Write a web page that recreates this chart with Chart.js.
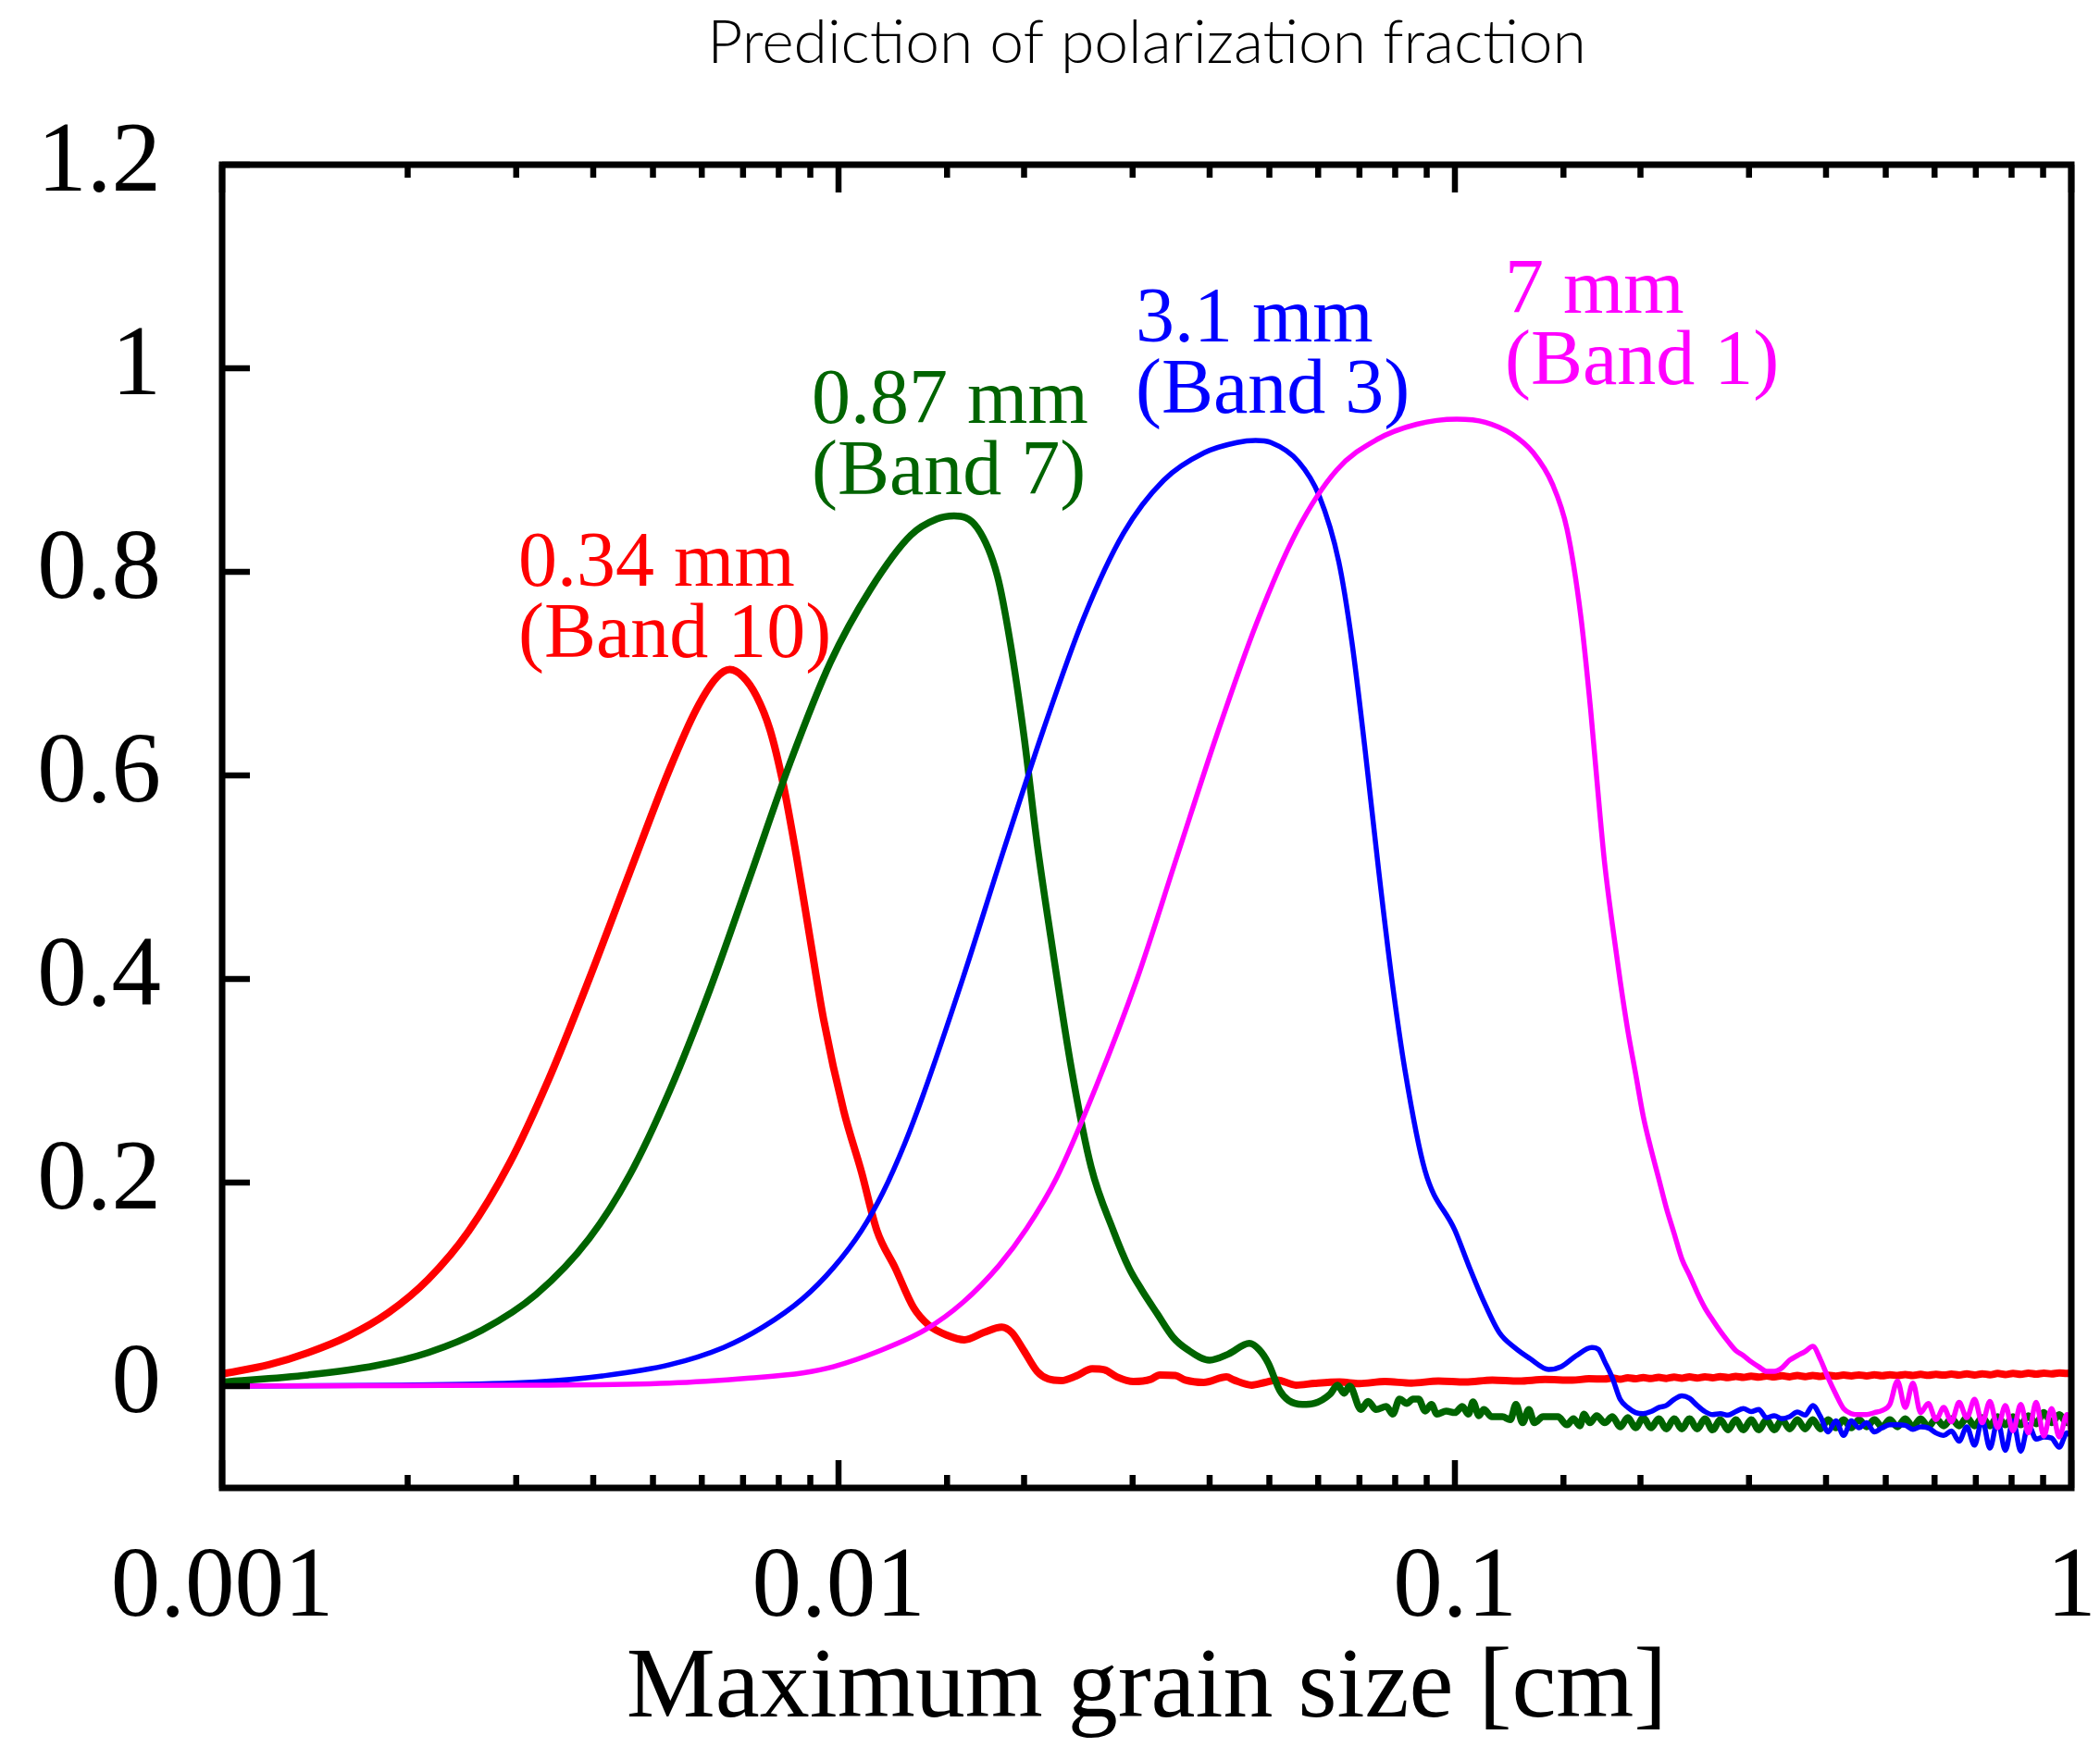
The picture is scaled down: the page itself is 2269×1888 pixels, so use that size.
<!DOCTYPE html>
<html>
<head>
<meta charset="utf-8">
<title>Prediction of polarization fraction</title>
<script src="https://cdn.jsdelivr.net/npm/chart.js@4.4.1/dist/chart.umd.min.js"></script>
<style>
  html, body { margin: 0; padding: 0; background: #ffffff; }
  canvas { display: block; }
</style>
</head>
<body>
<canvas id="polarization" width="2269" height="1888"></canvas>
<script>
// Maximum grain size [cm] and polarization fraction
const sizeRed = [0.001, 0.00119, 0.00138, 0.0016, 0.00186, 0.00216, 0.00251, 0.00292, 0.00339, 0.00394,
  0.00458, 0.00532, 0.00588, 0.00634, 0.00666, 0.0070, 0.00736, 0.00774, 0.00813, 0.00855,
  0.00899, 0.00946, 0.0102, 0.0109, 0.01154, 0.01236, 0.01324, 0.0140, 0.0150, 0.0160,
  0.0172, 0.0184, 0.0191, 0.0200, 0.0210, 0.0219, 0.0230, 0.0243, 0.0258, 0.0270,
  0.0283, 0.0301, 0.0321, 0.0332, 0.0352, 0.0365, 0.0391, 0.0426, 0.0438, 0.0468,
  0.0492, 0.0515, 0.0552, 0.0592, 0.065, 0.070, 0.077, 0.085, 0.094, 0.104,
  0.115, 0.127, 0.140, 0.155, 0.165];
const fracRed = [0.012, 0.021, 0.033, 0.049, 0.072, 0.105, 0.152, 0.218, 0.302, 0.40,
  0.504, 0.606, 0.665, 0.696, 0.704, 0.697, 0.678, 0.645, 0.592, 0.52,
  0.44, 0.36, 0.27, 0.21, 0.153, 0.116, 0.077, 0.060, 0.050, 0.0455,
  0.0527, 0.058, 0.0527, 0.0345, 0.0145, 0.007, 0.0055, 0.010, 0.017, 0.016,
  0.009, 0.0045, 0.0067, 0.011, 0.0105, 0.006, 0.0036, 0.009, 0.006, 0.001,
  0.0036, 0.006, 0.001, 0.0027, 0.004, 0.0025, 0.0045, 0.003, 0.005, 0.004,
  0.006, 0.005, 0.0065, 0.0058, 0.0072];

const sizeGreen = [0.001, 0.00138, 0.00177, 0.00216, 0.00264, 0.00323, 0.00394, 0.00458, 0.00532, 0.00618,
  0.00718, 0.00834, 0.0097, 0.01127, 0.0131, 0.01445, 0.0154, 0.0168, 0.0181, 0.019,
  0.020, 0.021, 0.0221, 0.0239, 0.0257, 0.0279, 0.0296, 0.031, 0.0329, 0.0349,
  0.0368, 0.040, 0.0429, 0.0464, 0.0481, 0.0498, 0.052, 0.0537, 0.0566, 0.0591,
  0.0627, 0.0645, 0.0661, 0.0675, 0.0704, 0.0723, 0.0745, 0.0774, 0.0793, 0.0813,
  0.0836, 0.0855, 0.0873, 0.0895, 0.0916, 0.0935, 0.0968, 0.100, 0.1028, 0.1052,
  0.107, 0.1094, 0.1114, 0.1148, 0.1194, 0.123, 0.1256, 0.1288, 0.1318, 0.1346,
  0.139, 0.1469, 0.152, 0.1557, 0.1595, 0.162, 0.1656, 0.1698];
const fracGreen = [0.004, 0.011, 0.02, 0.033, 0.055, 0.09, 0.145, 0.207, 0.29, 0.389,
  0.50, 0.612, 0.711, 0.783, 0.836, 0.852, 0.855, 0.843, 0.796, 0.73,
  0.638, 0.533, 0.441, 0.31, 0.215, 0.153, 0.116, 0.095, 0.071, 0.048,
  0.036, 0.0255, 0.0315, 0.042, 0.036, 0.0225, -0.0045, -0.014, -0.018, -0.017,
  -0.008, 0.001, -0.007, 0.0, -0.023, -0.015, -0.023, -0.020, -0.0275, -0.0127,
  -0.017, -0.0127, -0.0127, -0.0245, -0.018, -0.0275, -0.0245, -0.026, -0.020, -0.0275,
  -0.0155, -0.029, -0.023, -0.030, -0.030, -0.033, -0.018, -0.036, -0.023, -0.036,
  -0.030, -0.030, -0.038, -0.032, -0.039, -0.0275, -0.036, -0.029];

const sizeBlue = [0.001, 0.00195, 0.00323, 0.00414, 0.00532, 0.00651, 0.00754, 0.00875, 0.0098, 0.0109,
  0.0118, 0.0128, 0.0137, 0.0159, 0.0185, 0.0215, 0.025, 0.029, 0.0337, 0.0392,
  0.0443, 0.0475, 0.0503, 0.0558, 0.0602, 0.0648, 0.0681, 0.0715, 0.0752, 0.079,
  0.083, 0.0894, 0.100, 0.1052, 0.1114, 0.118, 0.1253, 0.1324, 0.1419, 0.149,
  0.1574, 0.1668, 0.171];
const fracBlue = [0.0, 0.001, 0.004, 0.01, 0.021, 0.038, 0.058, 0.086, 0.116, 0.153,
  0.19, 0.238, 0.285, 0.40, 0.525, 0.645, 0.755, 0.838, 0.89, 0.917,
  0.927, 0.929, 0.927, 0.908, 0.875, 0.81, 0.73, 0.625, 0.507, 0.40,
  0.31, 0.212, 0.153, 0.119, 0.083, 0.0527, 0.0373, 0.027, 0.0164, 0.0194,
  0.030, 0.038, 0.036];

const sizeMagenta = [0.001, 0.00195, 0.00323, 0.00532, 0.00718, 0.00875, 0.0098, 0.01164, 0.01384, 0.0159,
  0.01824, 0.0202, 0.0226, 0.0262, 0.0305, 0.0354, 0.0411, 0.0477, 0.0554, 0.0643,
  0.0747, 0.0867, 0.1007, 0.112, 0.124, 0.134, 0.144, 0.152, 0.16, 0.166, 0.172];
const fracMagenta = [0.0, 0.0005, 0.001, 0.003, 0.008, 0.013, 0.019, 0.0345, 0.0555, 0.082,
  0.119, 0.155, 0.205, 0.295, 0.40, 0.52, 0.64, 0.75, 0.84, 0.90,
  0.93, 0.945, 0.95, 0.947, 0.935, 0.917, 0.886, 0.842, 0.757, 0.665, 0.56];

// shared grain sizes for the noisy large-grain end of every curve
const tailSize = [0.175, 0.1801, 0.1854, 0.1908, 0.1964, 0.2021, 0.2080, 0.2141, 0.2203, 0.2268,
  0.2334, 0.2402, 0.2472, 0.2544, 0.2619, 0.2695, 0.2774, 0.2855, 0.2938, 0.3024,
  0.3112, 0.3203, 0.3297, 0.3393, 0.3492, 0.3594, 0.3699, 0.3807, 0.3918, 0.4032,
  0.4150, 0.4271, 0.4396, 0.4524, 0.4656, 0.4792, 0.4932, 0.5076, 0.5224, 0.5377,
  0.5534, 0.5695, 0.5861, 0.6032, 0.6209, 0.6390, 0.6576, 0.6768, 0.6966, 0.7169,
  0.7379, 0.7594, 0.7816, 0.8044, 0.8279, 0.8520, 0.8769, 0.9025, 0.9289, 0.9560,
  0.9839, 1.0];
const tailRed = [0.0070, 0.0080, 0.0068, 0.0082, 0.0072, 0.0084, 0.0074, 0.0086, 0.0076, 0.0088,
  0.0078, 0.0090, 0.0080, 0.0092, 0.0082, 0.0094, 0.0084, 0.0096, 0.0086, 0.0098,
  0.0088, 0.0100, 0.0090, 0.0102, 0.0092, 0.0104, 0.0094, 0.0105, 0.0096, 0.0106,
  0.0098, 0.0108, 0.0100, 0.0110, 0.0101, 0.0111, 0.0102, 0.0112, 0.0104, 0.0114,
  0.0105, 0.0115, 0.0106, 0.0116, 0.0108, 0.0118, 0.0109, 0.0120, 0.0110, 0.0121,
  0.0112, 0.0124, 0.0114, 0.0125, 0.0116, 0.0127, 0.0118, 0.0128, 0.0120, 0.0130,
  0.0124, 0.0135];
const tailGreen = [-0.036, -0.030, -0.040, -0.031, -0.041, -0.031, -0.041, -0.032, -0.042, -0.032,
  -0.042, -0.032, -0.042, -0.032, -0.043, -0.033, -0.043, -0.033, -0.043, -0.033,
  -0.043, -0.033, -0.043, -0.033, -0.042, -0.033, -0.042, -0.033, -0.042, -0.033,
  -0.041, -0.033, -0.041, -0.033, -0.040, -0.033, -0.040, -0.033, -0.040, -0.032,
  -0.040, -0.032, -0.040, -0.032, -0.039, -0.032, -0.039, -0.031, -0.039, -0.031,
  -0.039, -0.030, -0.038, -0.030, -0.038, -0.029, -0.037, -0.026, -0.036, -0.028,
  -0.036, -0.030];
const tailBlue = [0.024, 0.008, -0.013, -0.021, -0.026, -0.027, -0.025, -0.021, -0.019, -0.013,
  -0.0095, -0.012, -0.019, -0.025, -0.028, -0.027, -0.0285, -0.025, -0.022, -0.025,
  -0.023, -0.031, -0.029, -0.032, -0.030, -0.0255, -0.0285, -0.019, -0.030, -0.045,
  -0.034, -0.0485, -0.034, -0.041, -0.036, -0.045, -0.041, -0.038, -0.038, -0.0385,
  -0.0425, -0.040, -0.041, -0.046, -0.0485, -0.044, -0.054, -0.040, -0.058, -0.033,
  -0.061, -0.034, -0.063, -0.034, -0.064, -0.038, -0.052, -0.050, -0.051, -0.060,
  -0.046, -0.049];
const tailMagenta = [0.513, 0.453, 0.398, 0.349, 0.307, 0.265, 0.233, 0.204, 0.175, 0.150,
  0.125, 0.109, 0.092, 0.077, 0.065, 0.054, 0.044, 0.035, 0.030, 0.024,
  0.019, 0.0145, 0.0145, 0.018, 0.0255, 0.030, 0.034, 0.039, 0.026, 0.008,
  -0.008, -0.022, -0.027, -0.028, -0.028, -0.026, -0.024, -0.018, 0.005, -0.021,
  0.003, -0.026, -0.017, -0.033, -0.021, -0.035, -0.016, -0.031, -0.013, -0.036,
  -0.015, -0.041, -0.019, -0.044, -0.018, -0.046, -0.016, -0.049, -0.022, -0.05,
  -0.028, -0.046];

const wavelengths = ['0.34 mm', '0.87 mm', '3.1 mm', '7 mm'];
const bandNames = ['(Band 10)', '(Band 7)', '(Band 3)', '(Band 1)'];
const xTickValues = [0.001, 0.01, 0.1, 1];
const yTickValues = [0, 0.2, 0.4, 0.6, 0.8, 1, 1.2];

// Styles and label placement (kept away from the data)
const lineColors = ['#ff0000', '#006400', '#0000ff', '#ff00ff'];
const lineWidths = [8, 7.5, 5.5, 5.5];
const labelAnchorX = [0.003024, 0.009048, 0.03034, 0.1205];
const labelAnchorY = [0.786, 0.946, 1.026, 1.055];

/**
 * Joins a size array and a fraction array into {x, y} points.
 */
function toPoints(sizes, fracs) {
    const points = [];
    const n = Math.min(sizes.length, fracs.length);
    for (let i = 0; i < n; i++) {
        points.push({ x: sizes[i], y: fracs[i] });
    }
    return points;
}

function isDecade(v) {
    const l = Math.log10(v);
    return Math.abs(l - Math.round(l)) < 1e-9;
}

const series = [
    toPoints(sizeRed.concat(tailSize), fracRed.concat(tailRed)),
    toPoints(sizeGreen.concat(tailSize), fracGreen.concat(tailGreen)),
    toPoints(sizeBlue.concat(tailSize), fracBlue.concat(tailBlue)),
    toPoints(sizeMagenta.concat(tailSize), fracMagenta.concat(tailMagenta))
];

// Frame, inward ticks and the coloured band labels
const frameAndLabels = {
    id: 'frameAndLabels',
    afterDatasetsDraw(chart) {
        const ctx = chart.ctx;
        const area = chart.chartArea;
        const xScale = chart.scales.x;
        const yScale = chart.scales.y;

        ctx.save();
        ctx.strokeStyle = '#000000';
        ctx.lineCap = 'butt';
        ctx.lineWidth = 6.5;

        // x ticks on bottom and top, pointing inwards
        xScale.ticks.forEach(function (t) {
            const px = xScale.getPixelForValue(t.value);
            const len = isDecade(t.value) ? 30 : 14;
            ctx.beginPath();
            ctx.moveTo(px, area.bottom);
            ctx.lineTo(px, area.bottom - len);
            ctx.moveTo(px, area.top);
            ctx.lineTo(px, area.top + len);
            ctx.stroke();
        });

        // y ticks on the left only
        yScale.ticks.forEach(function (t) {
            if (t.value < 0) return;
            const py = yScale.getPixelForValue(t.value);
            ctx.beginPath();
            ctx.moveTo(area.left, py);
            ctx.lineTo(area.left + 30, py);
            ctx.stroke();
        });

        // box around the plot
        ctx.lineWidth = 7;
        ctx.strokeRect(area.left, area.top, area.right - area.left, area.bottom - area.top);

        // band labels
        ctx.font = "84px 'Liberation Serif', 'Times New Roman', serif";
        ctx.textAlign = 'left';
        ctx.textBaseline = 'alphabetic';
        for (let i = 0; i < wavelengths.length; i++) {
            const px = xScale.getPixelForValue(labelAnchorX[i]);
            const py = yScale.getPixelForValue(labelAnchorY[i]);
            ctx.fillStyle = lineColors[i];
            ctx.fillText(wavelengths[i], px, py);
            ctx.fillText(bandNames[i], px, py + 77);
        }
        ctx.restore();
    }
};

const serifTicks = { family: "'Liberation Serif', 'Times New Roman', serif", size: 107, lineHeight: 1 };

new Chart(document.getElementById('polarization'), {
    type: 'line',
    data: {
        datasets: series.map(function (pts, i) {
            return {
                data: pts,
                borderColor: lineColors[i],
                borderWidth: lineWidths[i],
                pointRadius: 0,
                fill: false,
                cubicInterpolationMode: 'monotone',
                order: 4 - i
            };
        })
    },
    options: {
        responsive: false,
        animation: false,
        devicePixelRatio: 1,
        layout: { padding: { left: 0, right: 31, top: 0, bottom: 0 } },
        plugins: {
            legend: { display: false },
            tooltip: { enabled: false },
            title: {
                display: true,
                text: 'Prediction of polarization fraction',
                fullSize: false,
                color: '#000000',
                font: { family: "Lato, 'Noto Sans', sans-serif", size: 66, weight: 300, lineHeight: 1 },
                padding: { top: 14, bottom: 98 }
            }
        },
        scales: {
            x: {
                type: 'logarithmic',
                min: 0.001,
                max: 1,
                afterFit: function (scale) {
                    scale.height = 280;
                    // let the end labels hang over the frame instead of shrinking the plot
                    scale.paddingLeft = 0;
                    scale.paddingRight = 0;
                },
                grid: { display: false, drawTicks: false },
                border: { display: false },
                ticks: {
                    autoSkip: false,
                    maxRotation: 0,
                    padding: 56,
                    color: '#000000',
                    font: serifTicks,
                    callback: function (value) {
                        return xTickValues.some(function (v) { return Math.abs(v - value) < v * 1e-6; }) ? String(value) : '';
                    }
                },
                title: {
                    display: true,
                    text: 'Maximum grain size [cm]',
                    color: '#000000',
                    font: { family: "'Liberation Serif', 'Times New Roman', serif", size: 108, lineHeight: 1 },
                    padding: { top: 0, bottom: 7 }
                }
            },
            y: {
                min: -0.1,
                max: 1.2,
                afterFit: function (scale) {
                    scale.width = 240;
                    scale.paddingTop = 0;
                    scale.paddingBottom = 0;
                },
                grid: { display: false, drawTicks: false },
                border: { display: false },
                ticks: {
                    stepSize: 0.2,
                    includeBounds: false,
                    padding: 66,
                    color: '#000000',
                    font: serifTicks,
                    callback: function (value) {
                        const r = Math.round(value * 10) / 10;
                        return yTickValues.indexOf(r) >= 0 ? String(r) : '';
                    }
                }
            }
        }
    },
    plugins: [frameAndLabels]
});
</script>
</body>
</html>
